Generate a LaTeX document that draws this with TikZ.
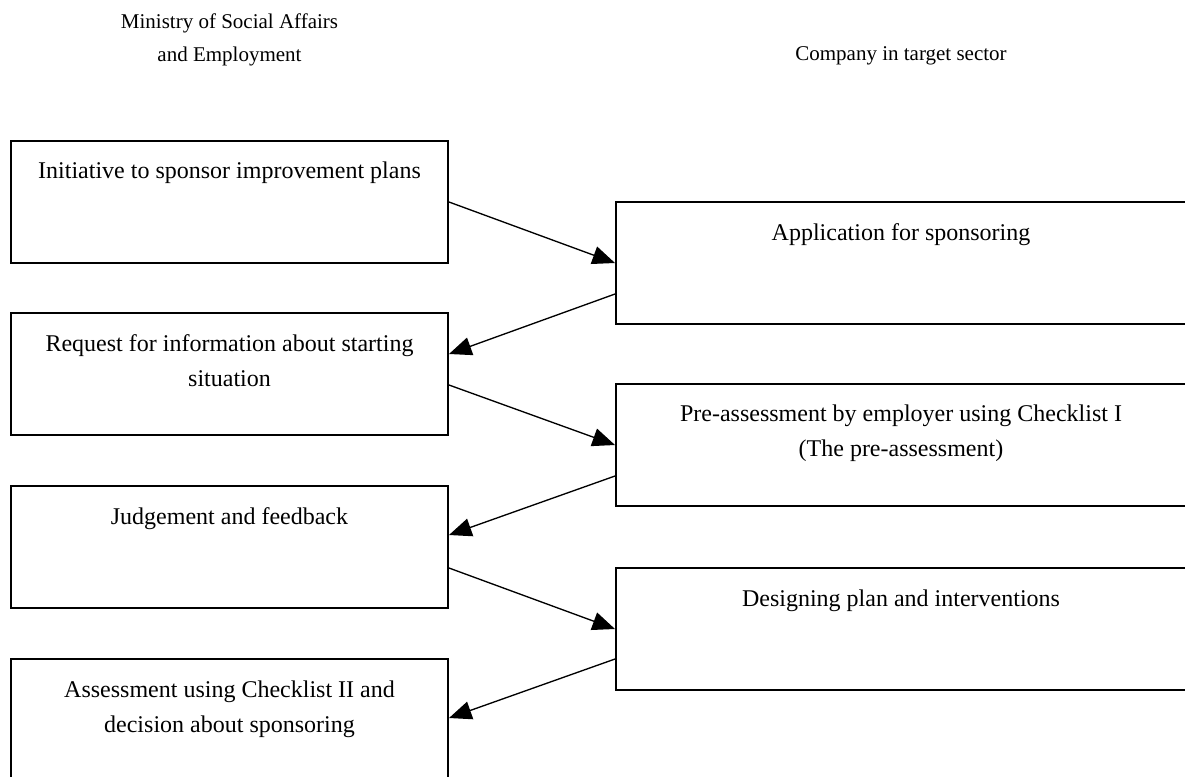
\documentclass[tikz,border=0pt]{standalone}
\usepackage{fontspec}
\setmainfont{Liberation Serif}
\usetikzlibrary{arrows.meta,positioning,calc}

\begin{document}
\begin{tikzpicture}[x=0.6pt,y=-0.6pt,
  stagebox/.style={draw=black,line width=1.2pt,inner sep=0pt,minimum height=73.2pt},
  leftbox/.style={stagebox,minimum width=262.2pt},
  rightbox/.style={stagebox,minimum width=342pt},
  stagetext/.style={align=center,inner sep=0pt,font=\fontsize{14.4}{21}\selectfont},
  headtext/.style={align=center,inner sep=0pt,font=\fontsize{12.6}{19.8}\selectfont},
  flow/.style={-{Triangle[length=13.5pt,width=11pt]},line width=0.8pt}]
  \clip (0,0) rectangle (1185,776);
  % Column headings
  \node[headtext,anchor=north] (ministry) at (229.5,13)
    {Ministry of Social Affairs\\and Employment};
  \node[headtext,anchor=base] (company) at (901,60) {Company in target sector};
  % Ministry side
  \node[leftbox] (init) at (229.5,202) {};
  \node[leftbox] (request) at (229.5,374) {};
  \node[leftbox] (judge) at (229.5,547) {};
  \node[leftbox] (assess) at (229.5,720) {};
  % Company side
  \node[rightbox] (apply) at (901,263) {};
  \node[rightbox] (preassess) at (901,445) {};
  \node[rightbox] (design) at (901,629) {};
  % Box texts
  \node[stagetext,below=13.2pt of init.north] (initlbl)
    {Initiative to sponsor improvement plans};
  \node[stagetext,below=13.2pt of request.north] (requestlbl)
    {Request for information about starting\\situation};
  \node[stagetext,below=13.2pt of judge.north] (judgelbl)
    {Judgement and feedback};
  \node[stagetext,below=13.2pt of assess.north] (assesslbl)
    {Assessment using Checklist II and\\decision about sponsoring};
  \node[stagetext,below=13.2pt of apply.north] (applylbl)
    {Application for sponsoring};
  \node[stagetext,below=13.2pt of preassess.north] (preassesslbl)
    {Pre-assessment by employer using Checklist I\\(The pre-assessment)};
  \node[stagetext,below=13.2pt of design.north] (designlbl)
    {Designing plan and interventions};
  % Arrows
  \draw[flow] (init.east) -- (apply.west);
  \draw[flow] ($(apply.west)+(0,31)$) -- ($(request.east)+(0,-20)$);
  \draw[flow] ($(request.east)+(0,11)$) -- (preassess.west);
  \draw[flow] ($(preassess.west)+(0,31)$) -- ($(judge.east)+(0,-12)$);
  \draw[flow] ($(judge.east)+(0,21)$) -- (design.west);
  \draw[flow] ($(design.west)+(0,30)$) -- ($(assess.east)+(0,-2)$);
\end{tikzpicture}
\end{document}
